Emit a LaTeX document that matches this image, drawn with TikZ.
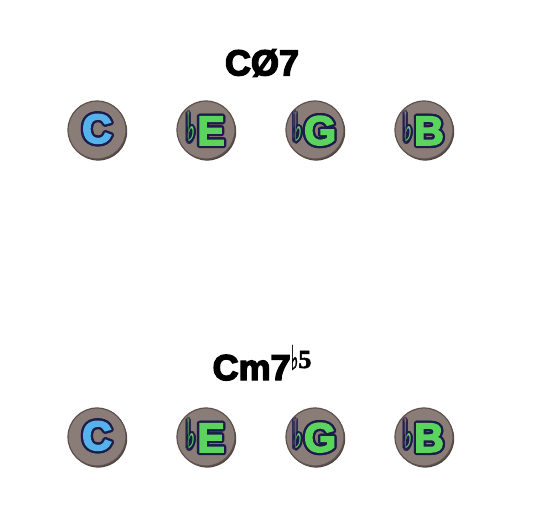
\documentclass[tikz,border=0pt]{standalone}
\usepackage{fontspec}
\usepackage{contour}
\usetikzlibrary{shadows}
\setmainfont{Liberation Sans}
\newfontface\heavyfont{Liberation Sans Bold}[FakeBold=4]
\newfontfamily\symfont{DejaVu Sans}
\newfontface\symbold{DejaVu Sans Bold}[FakeBold=1.5]
\newfontface\supfont{Liberation Serif Bold}[FakeBold=2]
\definecolor{coinfill}{RGB}{138,124,118}
\definecolor{coinrim}{RGB}{58,48,46}
\definecolor{navyx}{RGB}{30,28,75}
\definecolor{skyx}{RGB}{85,178,235}
\definecolor{greenx}{RGB}{90,212,92}
\contourlength{2.3pt}
\newcommand{\flatsign}{\raisebox{3pt}{\symfont\fontsize{19}{19}\selectfont\scalebox{0.9}[2.1]{\char"266D}}\hspace{2pt}}

\begin{document}
\begin{tikzpicture}[x=1pt, y=-1pt,
    coin/.style={circle, minimum size=58pt, inner sep=0pt, fill=coinfill,
                 draw=coinrim!55!coinfill, line width=1.2pt,
                 drop shadow={shadow xshift=1.2pt, shadow yshift=-1.6pt,
                              fill=coinrim, opacity=0.9},
                 font=\heavyfont\fontsize{41}{41}\selectfont},
    chordname/.style={font=\heavyfont\fontsize{36}{36}\selectfont, text=black}]

    \useasboundingbox (0,0) rectangle (543,515);

    % Half-diminished chord
    \node[chordname] (halfdim) at (262,63) {CØ7};
    \node[coin] (hC)  at (97,130)  {\textcolor{skyx}{\contour{navyx}{C}}};
    \node[coin] (hEb) at (206,130) {\textcolor{greenx}{\contour{navyx}{\flatsign E}}};
    \node[coin] (hGb) at (315,130) {\textcolor{greenx}{\contour{navyx}{\flatsign G}}};
    \node[coin] (hBb) at (424,130) {\textcolor{greenx}{\contour{navyx}{\flatsign B}}};

    % Minor seven flat five
    \node[chordname, anchor=base] (minb5) at (262,380)
        {Cm7\raisebox{10pt}{\symbold\fontsize{18}{18}\selectfont\scalebox{0.9}[1.9]{\char"266D}}\raisebox{12pt}{\supfont\fontsize{26}{26}\selectfont 5}};
    \node[coin] (mC)  at (97,437)  {\textcolor{skyx}{\contour{navyx}{C}}};
    \node[coin] (mEb) at (206,437) {\textcolor{greenx}{\contour{navyx}{\flatsign E}}};
    \node[coin] (mGb) at (315,437) {\textcolor{greenx}{\contour{navyx}{\flatsign G}}};
    \node[coin] (mBb) at (424,437) {\textcolor{greenx}{\contour{navyx}{\flatsign B}}};
\end{tikzpicture}
\end{document}
